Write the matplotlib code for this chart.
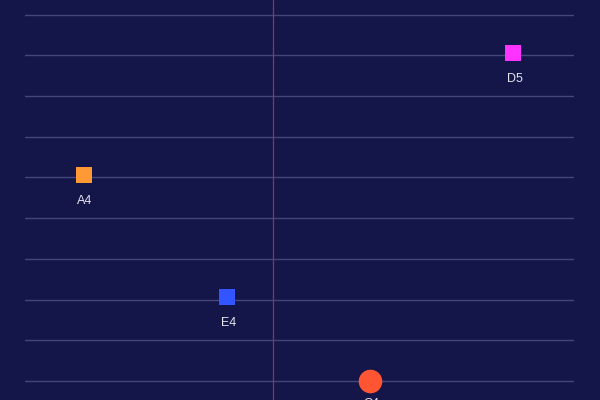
import matplotlib.pyplot as plt
from matplotlib.transforms import ScaledTranslation

# pitch grid (diatonic steps from C4 up to E5)
pitches = ['C4', 'D4', 'E4', 'F4', 'G4', 'A4', 'B4', 'C5', 'D5', 'E5']

notes = ['A4', 'E4', 'C4', 'D5']
beats = [0, 1, 2, 3]
colors = ['#ff9933', '#3355ff', '#ff5533', '#ff33ff']
shapes = ['s', 's', 'o', 's']
playhead = 1.326

bg = '#141548'

fig = plt.figure(figsize=(6, 4), dpi=100)
fig.patch.set_facecolor(bg)
ax = fig.add_axes([25 / 600, 0, 549 / 600, 1])
ax.set_facecolor(bg)

for i in range(len(pitches)):
    ax.axhline(i, color='#45457e', linewidth=1, zorder=1)

ax.axvline(playhead, color='#923262', linewidth=0.9, zorder=2)

# square markers sit a couple of pixels above their grid line
lift = ax.transData + ScaledTranslation(0.005, 0.025, fig.dpi_scale_trans)

for x, n, c, m in zip(beats, notes, colors, shapes):
    y = pitches.index(n)
    if m == 'o':
        ax.plot(x, y, marker='o', markersize=17, color=c, markeredgewidth=0,
                linestyle='none', zorder=3)
    else:
        ax.plot(x, y, marker='s', markersize=11, color=c, markeredgewidth=0,
                linestyle='none', zorder=3, transform=lift)
    ax.annotate(n, (x, y), xytext=(1.5, -16.8),
                textcoords='offset points', ha='center', va='center',
                color='#e6e6ee', fontsize=9,
                family=['Liberation Sans', 'DejaVu Sans'], zorder=4)

ax.set_xlim(-0.405, 3.426)
ax.set_ylim(-0.467, 9.357)
ax.axis('off')

fig.savefig('out.png', dpi=100, facecolor=bg)
